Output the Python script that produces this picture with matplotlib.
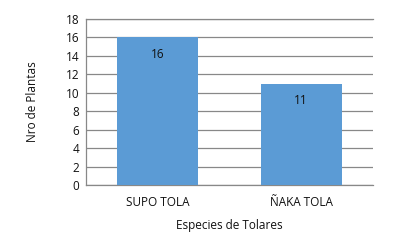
import matplotlib.pyplot as plt

plt.rcParams['font.family'] = ['Open Sans', 'DejaVu Sans']

especies = ['SUPO TOLA', 'ÑAKA TOLA']
plantas = [16, 11]
yticks = list(range(0, 19, 2))

fig = plt.figure(figsize=(3.93, 2.4), dpi=100)
ax = fig.add_axes([0.219, 0.229, 0.730, 0.692])

bars = ax.bar(range(len(especies)), plantas, width=0.565, color='#5B9BD5', zorder=3)
for b, v in zip(bars, plantas):
    ax.annotate(str(v), (b.get_x() + b.get_width() / 2, v), xytext=(0, -12.5),
                textcoords='offset points', ha='center', va='center',
                fontsize=8.5, color='#111111')

ax.set_xlim(-0.5, 1.5)
ax.set_ylim(0, 18)
ax.set_yticks(yticks)
ax.set_xticks(range(len(especies)))
ax.set_xticklabels(especies)
ax.yaxis.grid(True, color='#888888', linewidth=0.9, zorder=0)
ax.tick_params(axis='both', length=0, labelsize=8.5, colors='#111111')
ax.tick_params(axis='x', pad=8)
ax.tick_params(axis='y', pad=5)

ax.spines['right'].set_visible(False)
for s in ['left', 'top', 'bottom']:
    ax.spines[s].set_color('#888888')
    ax.spines[s].set_linewidth(0.9)

ax.set_xlabel('Especies de Tolares', fontsize=8.5, color='#111111', labelpad=7)
ax.set_ylabel('Nro de Plantas', fontsize=8.5, color='#111111', labelpad=19)

fig.savefig('out.png', dpi=100)
